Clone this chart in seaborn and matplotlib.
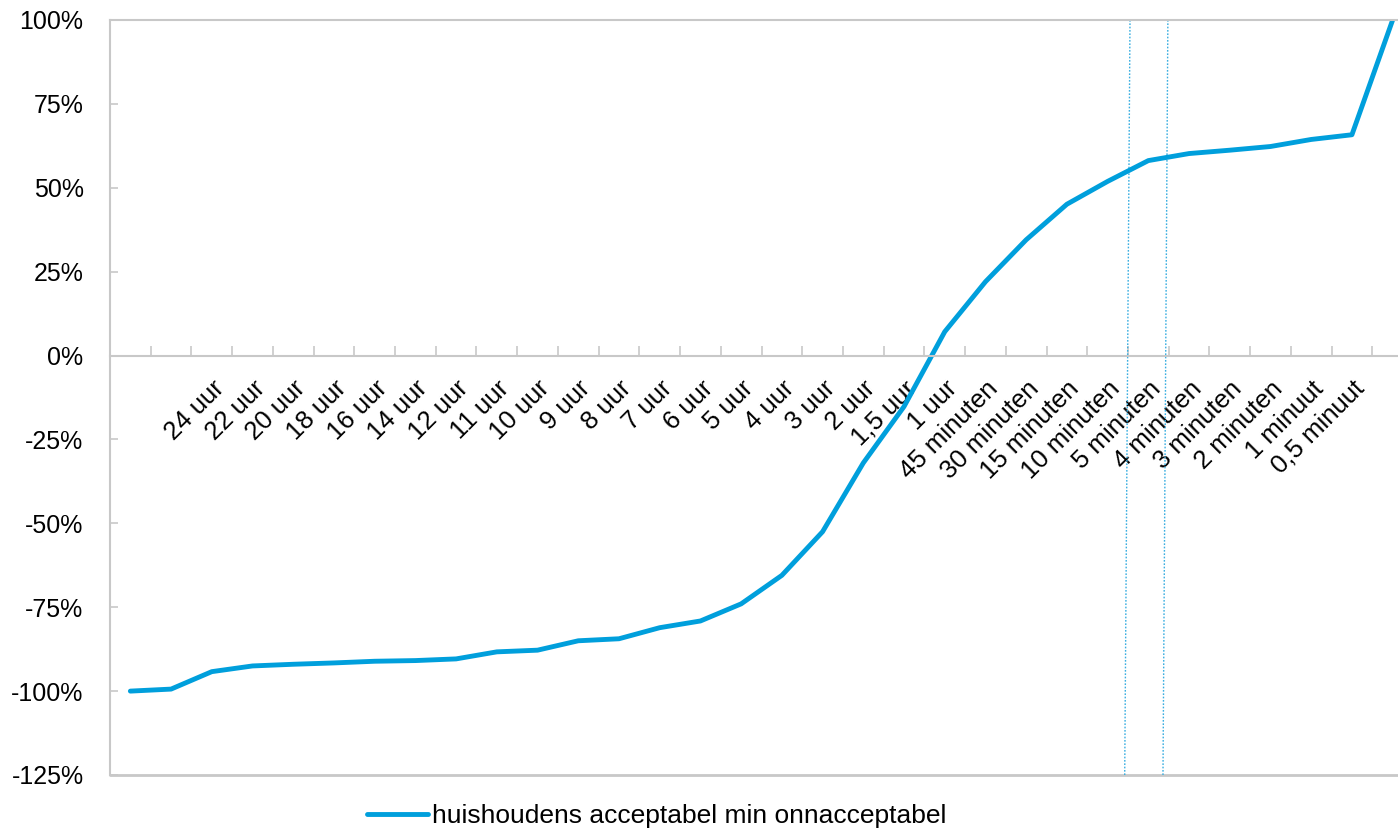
import matplotlib
matplotlib.use("Agg")
import matplotlib.pyplot as plt
import seaborn as sns
import pandas as pd
import numpy as np

# Share of households: acceptable minus unacceptable, per waiting time (%)
waiting_labels = [
    "", "",
    "24 uur", "22 uur", "20 uur", "18 uur", "16 uur", "14 uur", "12 uur",
    "11 uur", "10 uur", "9 uur", "8 uur", "7 uur", "6 uur", "5 uur",
    "4 uur", "3 uur", "2 uur", "1,5 uur", "1 uur",
    "45 minuten", "30 minuten", "15 minuten", "10 minuten", "5 minuten",
    "4 minuten", "3 minuten", "2 minuten", "1 minuut", "0,5 minuut",
    "",
]
net_acceptance = [
    -100.0, -99.4, -94.2, -92.5, -92.0, -91.6, -91.1, -90.9, -90.4, -88.3,
    -87.8, -85.0, -84.4, -81.1, -79.1, -74.0, -65.5, -52.5, -32.0, -15.2,
    7.1, 22.0, 34.5, 45.1, 51.9, 58.1, 60.2, 61.2, 62.3, 64.4,
    65.8, 100.0,
]
y_ticks = [100, 75, 50, 25, 0, -25, -50, -75, -100, -125]
series_name = "huishoudens acceptabel min onnacceptabel"

# Reference markers (category units, bottom -> top)
marker_lines = [(24.42, 24.55), (25.36, 25.48)]

sns.set_theme(style="white")
plt.rcParams["font.family"] = ["Liberation Sans", "DejaVu Sans"]
plt.rcParams["font.size"] = 18
plt.rcParams["text.color"] = "black"

W, H = 1398, 832
fig = plt.figure(figsize=(W / 100, H / 100), dpi=100)
left_px, right_px, top_px, bottom_px = 110, 1413, 20, 775
ax = fig.add_axes([left_px / W, (H - bottom_px) / H,
                   (right_px - left_px) / W, (bottom_px - top_px) / H])

df = pd.DataFrame({"pos": np.arange(len(net_acceptance)), "value": net_acceptance})

line_color = "#009fdc"
grey = "#c8c8c8"

sns.lineplot(data=df, x="pos", y="value", ax=ax, color=line_color,
             linewidth=3.5, label=series_name, legend=False)
for ln in ax.lines:
    ln.set_solid_capstyle("round")
    ln.set_solid_joinstyle("round")

ax.set_xlim(-0.5, len(net_acceptance) - 0.5)
ax.set_ylim(-125, 100)

for xb, xt in marker_lines:
    ax.plot([xb, xt], [-125, 100], linestyle=(0, (1.2, 1.2)), linewidth=1.0,
            color="#3aaee0", zorder=1)

# Spines: left and top as frame, bottom spine acts as the zero axis
for side in ["left", "top"]:
    ax.spines[side].set_color(grey)
    ax.spines[side].set_linewidth(1.5)
ax.spines["right"].set_visible(False)
ax.spines["bottom"].set_position(("data", 0))
ax.spines["bottom"].set_color(grey)
ax.spines["bottom"].set_linewidth(1.5)
ax.axhline(-125, color=grey, linewidth=2.0, clip_on=False, zorder=0)

# Y axis
ax.set_yticks(y_ticks)
ax.set_yticklabels([f"{v}%" for v in y_ticks])
ax.tick_params(axis="y", direction="in", length=6, width=1.2, color=grey,
               pad=19, labelsize=18, labelcolor="black", left=True)

# X axis: tick marks on category boundaries, labels on category centres
n = len(net_acceptance)
ax.set_xticks(np.arange(0.5, n - 0.5, 1.0))
ax.set_xticklabels([])
ax.tick_params(axis="x", which="major", direction="in", length=7, width=1.2,
               color=grey, bottom=True)
ax.set_xticks(np.arange(n), minor=True)
ax.set_xticklabels(waiting_labels, minor=True, rotation=45, ha="right",
                   va="top", rotation_mode="anchor")
ax.tick_params(axis="x", which="minor", length=0, pad=15, labelsize=18.5,
               labelcolor="black", bottom=True)
ax.set_xlabel("")
ax.set_ylabel("")
ax.grid(False)

handles, labels = ax.get_legend_handles_labels()
fig.legend(handles, labels, loc="center left",
           bbox_to_anchor=(367 / W, (H - 816) / H), frameon=False,
           fontsize=19, handlelength=2.3, handletextpad=0.15,
           borderpad=0, borderaxespad=0)

fig.savefig("out.png", dpi=100)
